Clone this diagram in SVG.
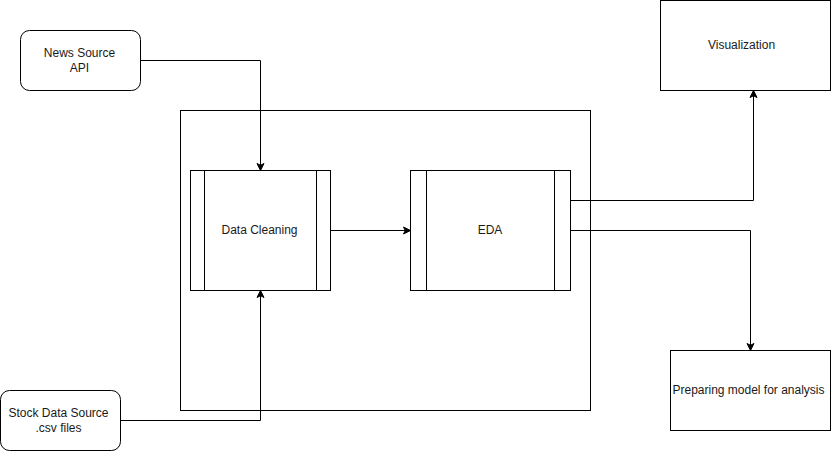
<svg xmlns="http://www.w3.org/2000/svg" width="831" height="451" viewBox="0 0 831 451">
<style>
.box{fill:#fff;stroke:#000;stroke-width:1}
.ln{fill:none;stroke:#000;stroke-width:1}
.t{font-family:"Liberation Sans",Arial,Helvetica,sans-serif;font-size:12px;fill:#1a1a1a;text-anchor:middle}
.c{fill:none;stroke:#000;stroke-width:1;marker-end:url(#arr)}
</style>
<defs>
<marker id="arr" markerUnits="userSpaceOnUse" markerWidth="12" markerHeight="12" viewBox="-8 -6 10 12" refX="0" refY="0" orient="auto">
<path d="M0,0 L-7,-3.5 L-5.25,0 L-7,3.5 Z" fill="#000" stroke="#000" stroke-width="1"/>
</marker>
</defs>
<rect width="831" height="451" fill="#fff"/>
<g id="container"><rect class="box" x="180.5" y="110.5" width="410" height="300"/></g>
<g id="news"><rect class="box" x="20.5" y="30.5" width="120" height="60" rx="9"/><text class="t" x="79.5" y="57">News Source</text><text class="t" x="79.5" y="72">API</text></g>
<g id="stock"><rect class="box" x="0.5" y="390.5" width="120" height="60" rx="9"/><text class="t" x="58.5" y="417">Stock Data Source</text><text class="t" x="58.5" y="432">.csv files</text></g>
<g id="cleaning"><rect class="box" x="190.5" y="170.5" width="140" height="120"/><line class="ln" x1="204.5" y1="170.5" x2="204.5" y2="290.5"/><line class="ln" x1="316.5" y1="170.5" x2="316.5" y2="290.5"/><text class="t" x="259.5" y="234">Data Cleaning</text></g>
<g id="eda"><rect class="box" x="410.5" y="170.5" width="160" height="120"/><line class="ln" x1="426.5" y1="170.5" x2="426.5" y2="290.5"/><line class="ln" x1="554.5" y1="170.5" x2="554.5" y2="290.5"/><text class="t" x="490" y="234">EDA</text></g>
<g id="viz"><rect class="box" x="660.5" y="0.5" width="170" height="90"/><text class="t" x="741.5" y="49">Visualization</text></g>
<g id="model"><rect class="box" x="670.5" y="350.5" width="160" height="80"/><text class="t" x="748.5" y="394">Preparing model for analysis</text></g>
<g id="connectors">
<path class="c" d="M140.5,60.5 H260.5 V170.5"/>
<path class="c" d="M120.5,420.5 H260.5 V290.5"/>
<path class="c" d="M330.5,230.5 H410.5"/>
<path class="c" d="M570.5,200.5 H753.5 V90.5"/>
<path class="c" d="M570.5,230.5 H750.5 V350.5"/>
</g>
</svg>
